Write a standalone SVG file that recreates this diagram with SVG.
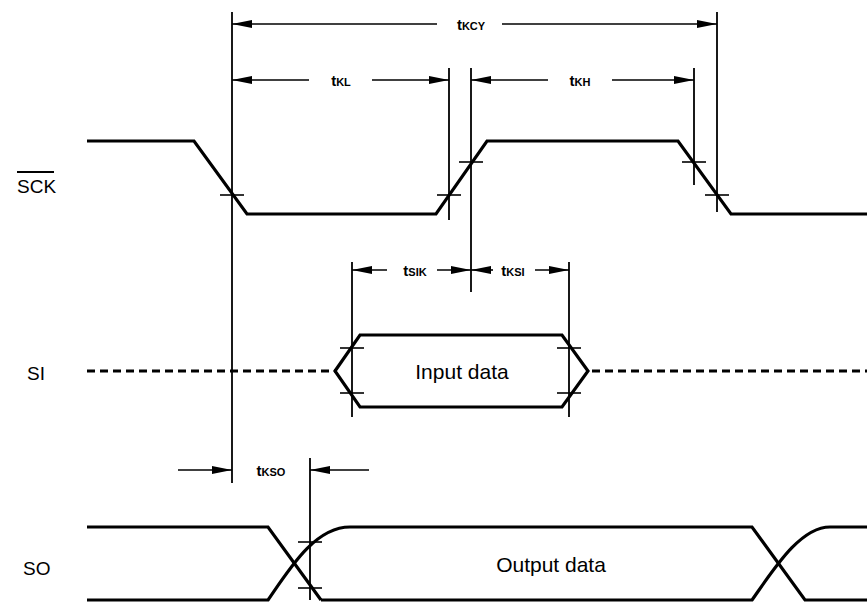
<svg xmlns="http://www.w3.org/2000/svg" width="867" height="602" viewBox="0 0 867 602">
<defs>
<marker id="ah" markerUnits="userSpaceOnUse" markerWidth="20" markerHeight="9" refX="20" refY="4.5" orient="auto">
<path d="M0,0.5 L20,4.5 L0,8.5 Z" fill="#000"/>
</marker>
<style>
.wave{fill:none;stroke:#000;stroke-width:3.2;stroke-linejoin:miter;stroke-linecap:butt}
.dash{fill:none;stroke:#000;stroke-width:3.2;stroke-dasharray:8 5}
.ref{stroke:#000;stroke-width:1.8;fill:none}
.tick{stroke:#000;stroke-width:1.6}
.dim{stroke:#000;stroke-width:1.6;fill:none;marker-end:url(#ah)}
.lbl{font-family:"Liberation Sans",Arial,sans-serif;font-size:19px;fill:#000}
.tl{font-family:"Liberation Sans",Arial,sans-serif;font-size:15px;font-weight:bold;fill:#000;text-anchor:middle}
.sub{font-size:11px}
.data{font-family:"Liberation Sans",Arial,sans-serif;font-size:21px;fill:#000;text-anchor:middle}
</style>
</defs>
<rect width="867" height="602" fill="#fff"/>

<g id="labels">
<text class="lbl" x="17" y="193">SCK</text>
<line x1="17" y1="172" x2="54" y2="172" stroke="#000" stroke-width="1.8"/>
<text class="lbl" x="27" y="380">SI</text>
<text class="lbl" x="23" y="575">SO</text>
</g>

<g id="sck">
<polyline class="wave" points="87,141 194,141 247,214 436,214 487,141 678,141 731,214 867,214"/>
</g>

<g id="si">
<line class="dash" x1="87" y1="371" x2="335" y2="371"/>
<path class="wave" d="M335,371 L360,335 L562,335 L588,371 L562,407 L360,407 Z"/>
<line class="dash" x1="592" y1="371" x2="867" y2="371"/>
<text class="data" x="462" y="379">Input data</text>
</g>

<g id="so">
<path class="wave" d="M87,527 H268 L321,600"/>
<path class="wave" d="M87,600 H268 C290,568 315,527 350,527 H752 L805,600 H867"/>
<path class="wave" d="M321,600 H752 C774,569 800,527 830,527 H867"/>
<text class="data" x="551" y="572">Output data</text>
</g>

<g id="connectors">
<line class="ref" x1="232" y1="12" x2="232" y2="483"/>
<line class="ref" x1="717" y1="12" x2="717" y2="212"/>
<line class="ref" x1="449" y1="68" x2="449" y2="220"/>
<line class="ref" x1="471" y1="68" x2="471" y2="292"/>
<line class="ref" x1="694" y1="68" x2="694" y2="185"/>
<line class="ref" x1="352" y1="262" x2="352" y2="417"/>
<line class="ref" x1="569" y1="262" x2="569" y2="417"/>
<line class="ref" x1="310" y1="458" x2="310" y2="600"/>

<line class="tick" x1="220" y1="195" x2="244" y2="195"/>
<line class="tick" x1="437" y1="195" x2="461" y2="195"/>
<line class="tick" x1="459" y1="162" x2="483" y2="162"/>
<line class="tick" x1="682" y1="162" x2="706" y2="162"/>
<line class="tick" x1="705" y1="195" x2="729" y2="195"/>
<line class="tick" x1="340" y1="348" x2="364" y2="348"/>
<line class="tick" x1="340" y1="393" x2="364" y2="393"/>
<line class="tick" x1="557" y1="348" x2="581" y2="348"/>
<line class="tick" x1="557" y1="393" x2="581" y2="393"/>
<line class="tick" x1="298" y1="542" x2="322" y2="542"/>
<line class="tick" x1="298" y1="588" x2="322" y2="588"/>

<line class="dim" x1="437" y1="24" x2="232" y2="24"/>
<line class="dim" x1="502" y1="24" x2="717" y2="24"/>
<line class="dim" x1="309" y1="80" x2="232" y2="80"/>
<line class="dim" x1="372" y1="80" x2="449" y2="80"/>
<line class="dim" x1="548" y1="80" x2="471" y2="80"/>
<line class="dim" x1="612" y1="80" x2="694" y2="80"/>
<line class="dim" x1="387" y1="270" x2="352" y2="270"/>
<line class="dim" x1="437" y1="270" x2="471" y2="270"/>
<line class="dim" x1="493" y1="270" x2="471" y2="270"/>
<line class="dim" x1="535" y1="270" x2="569" y2="270"/>
<line class="dim" x1="178" y1="470" x2="232" y2="470"/>
<line class="dim" x1="369" y1="470" x2="310" y2="470"/>
</g>

<g id="timing-labels">
<text class="tl" x="471" y="30">t<tspan class="sub">KCY</tspan></text>
<text class="tl" x="341" y="86">t<tspan class="sub">KL</tspan></text>
<text class="tl" x="580" y="86">t<tspan class="sub">KH</tspan></text>
<text class="tl" x="415" y="276">t<tspan class="sub">SIK</tspan></text>
<text class="tl" x="513" y="276">t<tspan class="sub">KSI</tspan></text>
<text class="tl" x="271" y="476">t<tspan class="sub">KSO</tspan></text>
</g>
</svg>
